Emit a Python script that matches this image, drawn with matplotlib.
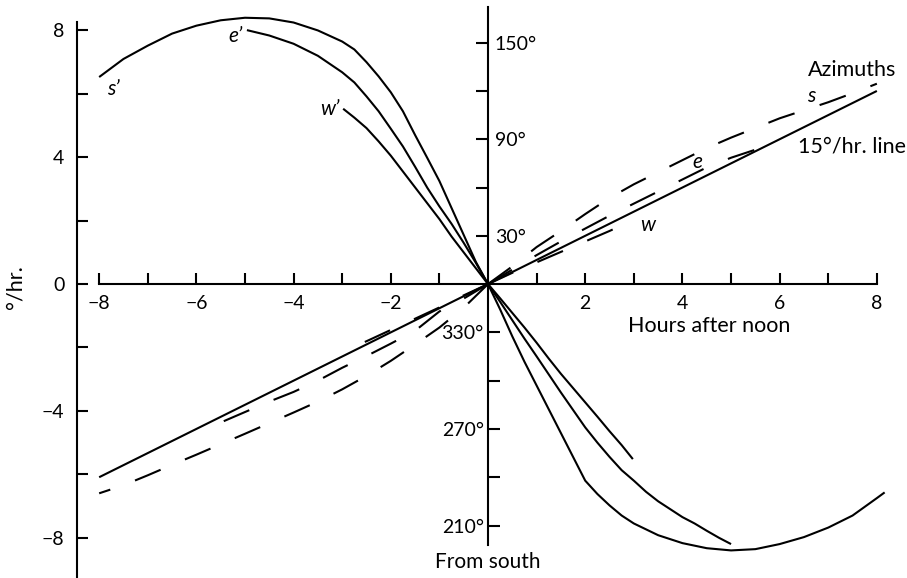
import matplotlib.pyplot as plt
import numpy as np

# degrees of azimuth that match one unit of the °/hr scale
DEG_PER_UNIT = 19.7

# rate of change of azimuth, °/hr, before noon (upper left)
S_RATE_AM_H = [-8.0, -7.5, -7.0, -6.5, -6.0, -5.5, -5.0, -4.5, -4.0, -3.5, -3.0, -2.75, -2.5, -2.25,
               -2.0, -1.75, -1.5, -1.25, -1.0, -0.75, -0.5, -0.25, 0.0]
S_RATE_AM = [6.53, 7.10, 7.52, 7.90, 8.15, 8.32, 8.40, 8.38, 8.25, 8.00, 7.65, 7.40, 7.00, 6.55,
             6.05, 5.45, 4.70, 3.98, 3.25, 2.40, 1.55, 0.70, 0.0]
E_RATE_AM_H = [-4.96, -4.5, -4.0, -3.5, -3.0, -2.75, -2.5, -2.25, -2.0, -1.75, -1.5, -1.25, -1.0,
               -0.75, -0.5, -0.25, 0.0]
E_RATE_AM = [8.01, 7.84, 7.58, 7.20, 6.68, 6.36, 5.92, 5.45, 4.90, 4.34, 3.70, 3.04, 2.45,
             1.90, 1.30, 0.67, 0.0]
W_RATE_AM_H = [-2.98, -2.75, -2.5, -2.25, -2.0, -1.75, -1.5, -1.25, -1.0, -0.75, -0.5, -0.25, 0.0]
W_RATE_AM = [5.53, 5.25, 4.92, 4.50, 4.05, 3.55, 3.05, 2.55, 2.05, 1.50, 1.00, 0.50, 0.0]

# same, after noon (lower right)
S_RATE_PM_H = [0.0, 0.25, 0.5, 0.75, 1.0, 1.25, 1.5, 1.75, 2.0, 2.25, 2.5, 2.75, 3.0, 3.5, 4.0,
               4.5, 5.0, 5.5, 6.0, 6.5, 7.0, 7.5, 8.0, 8.16]
S_RATE_PM = [0.0, -0.80, -1.65, -2.45, -3.20, -3.95, -4.70, -5.45, -6.20, -6.62, -6.98, -7.30, -7.55,
             -7.92, -8.17, -8.33, -8.40, -8.36, -8.20, -7.98, -7.68, -7.30, -6.75, -6.57]
E_RATE_PM_H = [0.0, 0.25, 0.5, 0.75, 1.0, 1.25, 1.5, 1.75, 2.0, 2.25, 2.5, 2.75, 3.0, 3.25,
               3.5, 3.75, 4.0, 4.25, 4.5, 4.75, 5.0]
E_RATE_PM = [0.0, -0.56, -1.14, -1.72, -2.28, -2.85, -3.42, -3.97, -4.52, -5.00, -5.45, -5.87, -6.20,
             -6.55, -6.85, -7.10, -7.35, -7.55, -7.78, -8.00, -8.20]
W_RATE_PM_H = [0.0, 0.25, 0.5, 0.75, 1.0, 1.25, 1.5, 1.75, 2.0, 2.25, 2.5, 2.75, 2.98]
W_RATE_PM = [0.0, -0.45, -0.91, -1.37, -1.85, -2.35, -2.83, -3.28, -3.73, -4.18, -4.64, -5.08, -5.52]

# azimuth from south, degrees (dashed)
S_AZ_PM_H = [0.0, 0.5, 1.0, 1.5, 2.0, 2.5, 3.0, 3.5, 4.0, 4.5, 5.0, 5.5, 6.0, 6.5, 7.0, 7.5, 8.0]
S_AZ_PM = [0.0, 11.0, 23.0, 33.0, 43.5, 53.5, 62.0, 69.5, 77.0, 84.5, 91.0, 97.0, 103.0, 108.0, 113.0, 118.6, 124.5]
E_AZ_PM_H = [0.0, 0.5, 1.0, 1.5, 2.0, 2.5, 3.0, 3.5, 4.0, 4.5, 5.0, 5.5, 5.9]
E_AZ_PM = [0.0, 9.0, 18.0, 26.5, 34.5, 42.5, 50.0, 57.5, 65.0, 72.5, 78.5, 83.5, 89.0]
W_AZ_PM_H = [0.0, 0.5, 1.0, 1.5, 2.0, 2.5, 3.0]
W_AZ_PM = [0.0, 7.0, 13.5, 20.0, 26.5, 33.0, 40.0]

S_AZ_AM_H = [0.0, -0.5, -1.0, -1.5, -2.0, -2.5, -3.0, -3.5, -4.0, -4.5, -5.0, -5.5, -6.0, -6.5, -7.0, -7.5, -8.0]
S_AZ_AM = [0.0, -14.7, -27.0, -37.5, -47.7, -57.0, -65.4, -73.0, -79.8, -86.4, -93.0, -99.5, -106.0, -112.3, -118.8, -125.0, -130.0]
E_AZ_AM_H = [0.0, -0.5, -1.0, -1.5, -2.0, -2.5, -3.0, -3.5, -4.0, -4.5, -5.0, -5.5, -5.9]
E_AZ_AM = [0.0, -9.0, -17.0, -29.0, -37.0, -44.7, -52.0, -60.0, -67.0, -73.0, -79.5, -86.0, -90.0]
W_AZ_AM_H = [0.0, -0.5, -1.0, -1.5, -2.0, -2.5, -3.0]
W_AZ_AM = [0.0, -7.0, -14.5, -21.5, -28.5, -35.5, -42.0]

# the uniform 15°/hr line
LINE_15_H = [-8.0, 8.0]
LINE_15_AZ = [-120.0, 120.0]

HOUR_TICKS = [h for h in range(-8, 9) if h != 0]
RATE_TICKS = list(range(-8, 9, 2))
AZ_TICKS_UP = [30, 60, 90, 120, 150]
AZ_TICKS_DOWN = [-30, -60, -90, -120, -150]


def to_units(az):
    return np.asarray(az) / DEG_PER_UNIT


def signed(v):
    return f'{v}'.replace('-', '\u2212')


plt.rcParams['font.family'] = ['Lato', 'DejaVu Sans']
plt.rcParams['lines.scale_dashes'] = False

fig = plt.figure(figsize=(9.07, 5.78), dpi=100)
ax = fig.add_axes([0, 0, 1, 1])
ax.set_xlim(-10.04, 8.62)
ax.set_ylim(-9.27, 8.96)

ax.spines['top'].set_visible(False)
ax.spines['right'].set_visible(False)
ax.spines['left'].set_position(('data', -8.46))
ax.spines['left'].set_bounds(-9.3, 8.26)
ax.spines['bottom'].set_position(('data', 0))
ax.spines['bottom'].set_bounds(-8, 8)
for sp in ax.spines.values():
    sp.set_linewidth(1.5)

ax.set_xticks(HOUR_TICKS, [signed(h) if h % 2 == 0 else '' for h in HOUR_TICKS])
ax.set_yticks(RATE_TICKS, [signed(r) if r % 4 == 0 else '' for r in RATE_TICKS])
ax.tick_params(axis='x', direction='in', length=8, width=1.5, pad=8, labelsize=14)
ax.tick_params(axis='y', direction='in', length=8, width=1.5, pad=9, labelsize=14)

# central azimuth scale
fwd = (lambda v: v * DEG_PER_UNIT, lambda a: a / DEG_PER_UNIT)
upper = ax.secondary_yaxis(0, functions=fwd, transform=ax.transData)
lower = ax.secondary_yaxis(0, functions=fwd, transform=ax.transData)
upper.set_yticks(AZ_TICKS_UP, [f'{a}\u00b0' if a % 60 == 30 else '' for a in AZ_TICKS_UP])
lower.set_yticks(AZ_TICKS_DOWN, [f'{a % 360}\u00b0' if a % 60 == 30 else '' for a in AZ_TICKS_DOWN])
upper.tick_params(axis='y', left=False, right=True, labelleft=False, labelright=True,
                  direction='in', length=8.5, width=1.5, pad=5, labelsize=14)
lower.tick_params(axis='y', left=True, right=False, labelleft=True, labelright=False,
                  direction='in', length=8.5, width=1.5, pad=3, labelsize=14)
upper.spines['left'].set_linewidth(1.5)
upper.spines['left'].set_bounds(-8.23 * DEG_PER_UNIT, 8.74 * DEG_PER_UNIT)
lower.spines['left'].set_visible(False)

solid = dict(color='black', lw=1.5, solid_capstyle='butt', solid_joinstyle='round')
dashed = dict(color='black', lw=1.5, ls=(0, (20, 19)), dash_capstyle='butt')

for h, r in [(S_RATE_AM_H, S_RATE_AM), (E_RATE_AM_H, E_RATE_AM), (W_RATE_AM_H, W_RATE_AM),
             (S_RATE_PM_H, S_RATE_PM), (E_RATE_PM_H, E_RATE_PM), (W_RATE_PM_H, W_RATE_PM)]:
    ax.plot(h, r, **solid)

ax.plot(LINE_15_H, to_units(LINE_15_AZ), **solid)

for h, a in [(S_AZ_PM_H, S_AZ_PM), (E_AZ_PM_H, E_AZ_PM), (W_AZ_PM_H, W_AZ_PM),
             (S_AZ_AM_H, S_AZ_AM), (E_AZ_AM_H, E_AZ_AM), (W_AZ_AM_H, W_AZ_AM)]:
    ax.plot(h, to_units(a), **dashed)

ital = dict(fontsize=15, style='italic', ha='center', va='center')
ax.text(-7.7, 6.15, 's\u2019', **ital)
ax.text(-5.2, 7.82, 'e\u2019', **ital)
ax.text(-3.25, 5.52, 'w\u2019', **ital)
ax.text(6.65, 5.93, 's', **ital)
ax.text(4.3, 3.85, 'e', **ital)
ax.text(3.29, 1.86, 'w', **ital)

lab = dict(fontsize=15.5, va='center')
ax.text(6.58, 6.75, 'Azimuths', ha='left', **lab)
ax.text(6.38, 4.35, '15\u00b0/hr. line', ha='left', **lab)
ax.text(4.56, -1.33, 'Hours after noon', ha='center', **lab)
ax.text(0, -8.75, 'From south', ha='center', fontsize=15, va='center')
ax.text(-9.73, -0.1, '\u00b0/hr.', rotation=90, ha='center', **lab)

fig.savefig('out.png', dpi=100)
